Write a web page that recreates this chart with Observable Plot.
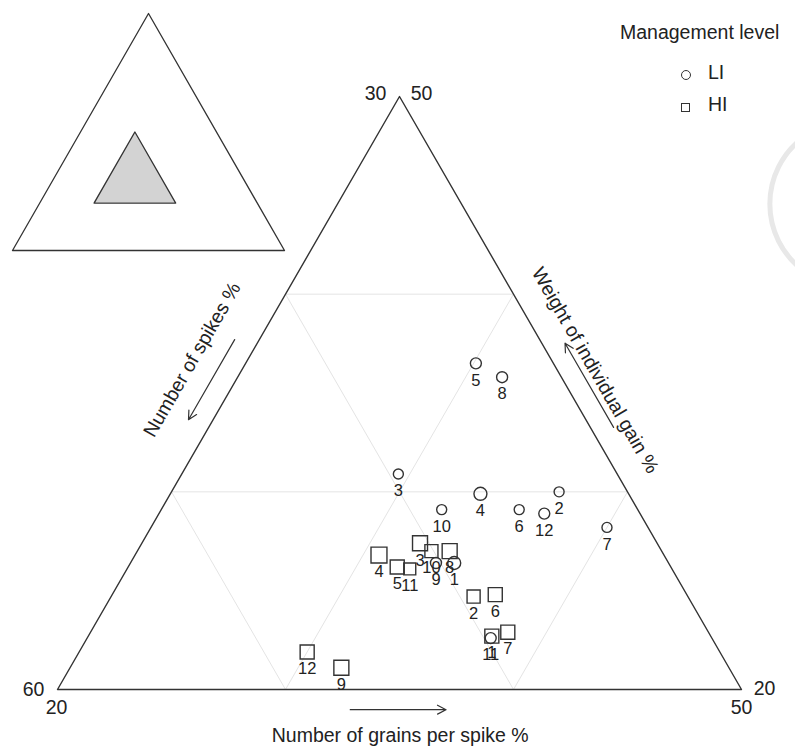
<!DOCTYPE html>
<html><head><meta charset="utf-8">
<script src="https://cdn.jsdelivr.net/npm/d3@7"></script>
<script src="https://cdn.jsdelivr.net/npm/@observablehq/plot@0.6"></script>
<style>
body{margin:0;background:#fff;font-family:"Liberation Sans",Arial,sans-serif;}
#wrap{position:relative;width:795px;height:747px;overflow:hidden;background:#fff;}
#wrap > svg, #wrap > div{position:absolute;}
.leg{position:absolute;font-size:19.5px;color:#222;font-family:"Liberation Sans",Arial,sans-serif;}
.sym{display:inline-block;width:9px;height:9px;border:1.4px solid #333;box-sizing:border-box;}
</style></head><body><div id="wrap"></div>
<script>
// ---- data (percent) ----
const pointIds   = [1, 2, 3, 4, 5, 6, 7, 8, 9, 10, 11, 12];
// LI management level (circles)
const liSpikes   = [39.4, 33.0, 39.6, 36.5, 33.4, 35.2, 31.8, 32.6, 40.2, 38.6, 39.7, 34.2];
const liWeight   = [26.4, 30.0, 30.9, 29.9, 36.5, 29.1, 28.2, 35.8, 26.4, 29.1, 22.6, 28.9];
const liGrains   = [34.2, 37.0, 29.5, 33.6, 30.1, 35.7, 40.0, 31.6, 33.4, 32.3, 37.7, 36.9];
const liCex      = [1.18, 0.91, 0.91, 1.18, 1.0, 0.91, 0.91, 1.0, 1.0, 0.91, 1.0, 1.0];
// HI management level (squares)
const hiSpikes   = [39.6, 39.4, 40.4, 42.5, 42.0, 38.4, 38.8, 39.3, 47.0, 40.1, 41.5, 48.1];
const hiWeight   = [22.7, 24.7, 27.4, 26.8, 26.2, 24.8, 22.9, 27.0, 21.1, 27.0, 26.1, 21.9];
const hiGrains   = [37.7, 35.9, 32.2, 30.7, 31.8, 36.8, 38.3, 33.7, 31.9, 32.9, 32.4, 30.0];
const hiCex      = [1.02, 0.95, 1.09, 1.16, 1.02, 1.02, 1.02, 1.09, 1.09, 0.95, 0.87, 1.02];
// axis limits (zoomed ternary window)
const spikesTicks = [30, 40, 50, 60];
const weightTicks = [20, 30, 40, 50];
const grainsTicks = [20, 30, 40, 50];
const axisTitles  = ["Number of spikes %", "Weight of individual gain %", "Number of grains per spike %"];
const legendTitle = "Management level";
const levels      = ["LI", "HI"];

// ---- ternary helpers ----
const R = spikesTicks[spikesTicks.length-1] - spikesTicks[0];
const sMin = spikesTicks[0], wMin = weightTicks[0], gMin = grainsTicks[0];
const H = Math.sqrt(3)/2;
const fx = (w, g) => g + w/2;
const fy = (w) => w*H;
const proj = (S, W, G) => { const w = (W - wMin)/R, g = (G - gMin)/R; return {x: fx(w,g), y: fy(w)}; };

const pts = [];
pointIds.forEach((id,i)=>pts.push({id, level:"HI", cex:hiCex[i], ...proj(hiSpikes[i], hiWeight[i], hiGrains[i])}));
pointIds.forEach((id,i)=>pts.push({id, level:"LI", cex:liCex[i], ...proj(liSpikes[i], liWeight[i], liGrains[i])}));

const T = {x: fx(1,0), y: fy(1)}, BL = {x: fx(0,0), y: 0}, BR = {x: fx(0,1), y: 0};
const outline = [BL, BR, T, BL];

const grid = [];
weightTicks.slice(1,-1).forEach(v=>{const k=(v-wMin)/R; grid.push({x1:fx(k,0),y1:fy(k),x2:fx(k,1-k),y2:fy(k)});});
grainsTicks.slice(1,-1).forEach(v=>{const k=(v-gMin)/R; grid.push({x1:fx(0,k),y1:0,x2:fx(1-k,k),y2:fy(1-k)});});
spikesTicks.slice(1,-1).forEach(v=>{const k=(v-sMin)/R; grid.push({x1:fx(0,1-k),y1:0,x2:fx(1-k,0),y2:fy(1-k)});});

const cornerLab = [
  {p:T,  t:String(spikesTicks[0]), dx:-24, dy:-3},
  {p:T,  t:String(weightTicks[weightTicks.length-1]), dx:22, dy:-3},
  {p:BL, t:String(spikesTicks[spikesTicks.length-1]), dx:-24, dy:0},
  {p:BL, t:String(grainsTicks[0]), dx:-1, dy:18},
  {p:BR, t:String(weightTicks[0]), dx:23, dy:-1},
  {p:BR, t:String(grainsTicks[grainsTicks.length-1]), dx:0, dy:18},
];

const A = (w,g)=>({x:fx(w,g), y:fy(w)});
const sOut = -0.034;
const leftArrow  = {a:A(0.59,-0.036), b:A(0.455,-0.036)};
const rightArrow = {a:A(0.442, 1-0.442-sOut), b:A(0.584, 1-0.584-sOut)};
const botArrow   = {a:A(-0.034,0.445), b:A(-0.034,0.585)};
const titles = [
  {...A(0.556,-0.081), t:axisTitles[0], r:-60},
  {...A(0.538, 1-0.538+0.055), t:axisTitles[1], r:60},
  {...A(-0.078, 0.54), t:axisTitles[2], r:0},
];

const squareSym = {draw(ctx, size){const h=Math.sqrt(size/Math.PI)*1.25; ctx.moveTo(-h,-h); ctx.lineTo(h,-h); ctx.lineTo(h,h); ctx.lineTo(-h,h); ctx.closePath();}};
const ink = "#333";

const main = Plot.plot({
  width:795, height:747, margin:0,
  x:{domain:[0,1], range:[57,741]},
  y:{domain:[0,H], range:[689,96]},
  r:{type:"linear", domain:[0,1], range:[0,5.5]},
  axis:null,
  style:{fontFamily:"'Liberation Sans', Arial, sans-serif", background:"transparent"},
  marks:[
    Plot.link(grid, {x1:"x1",y1:"y1",x2:"x2",y2:"y2", stroke:"#e4e4e4", strokeWidth:1}),
    Plot.line(outline, {x:"x", y:"y", stroke:ink, strokeWidth:1.4}),
    ...cornerLab.map(c=>Plot.text([c], {x:d=>d.p.x, y:d=>d.p.y, text:"t", dx:c.dx, dy:c.dy, fontSize:19.5, fill:"#222"})),
    ...[leftArrow, rightArrow, botArrow].map(a=>Plot.arrow([a], {x1:d=>d.a.x, y1:d=>d.a.y, x2:d=>d.b.x, y2:d=>d.b.y, stroke:ink, strokeWidth:1.2, headLength:12, headAngle:55})),
    ...titles.map(t=>Plot.text([t], {x:"x", y:"y", text:"t", rotate:t.r, fontSize:19.5, fill:"#222"})),
    Plot.dot(pts.filter(d=>d.level==="HI"), {x:"x", y:"y", r:"cex", symbol:squareSym, stroke:ink, strokeWidth:1.4, fill:"none"}),
    Plot.dot(pts.filter(d=>d.level==="LI"), {x:"x", y:"y", r:"cex", symbol:"circle", stroke:ink, strokeWidth:1.4, fill:"none"}),
    Plot.text(pts, {x:"x", y:"y", text:"id", dy:17, fontSize:16.5, fill:"#222"}),
  ]
});
main.style.left="0px"; main.style.top="0px";

// inset: full ternary with zoomed window shaded
const full = [{x:0,y:0},{x:1,y:0},{x:0.5,y:H},{x:0,y:0}];
const zfrac = (S,W,G)=>({x:(G/100)+(W/100)/2, y:(W/100)*H});
const zBL = zfrac(spikesTicks[3], weightTicks[0], grainsTicks[0]);
const zBR = zfrac(spikesTicks[0], weightTicks[0], grainsTicks[3]);
const zT  = zfrac(spikesTicks[0], weightTicks[3], grainsTicks[0]);
const inset = Plot.plot({
  width:300, height:262, margin:0,
  x:{domain:[0,1], range:[12,284]},
  y:{domain:[0,H], range:[250,13]},
  axis:null,
  style:{background:"transparent"},
  marks:[
    Plot.areaY([zBL, zT, zBR], {x:"x", y1:zBL.y, y2:"y", fill:"#d3d3d3"}),
    Plot.line([zBL, zBR, zT, zBL], {x:"x", y:"y", stroke:ink, strokeWidth:1.3}),
    Plot.line(full, {x:"x", y:"y", stroke:ink, strokeWidth:1.3}),
  ]
});
inset.style.left="0px"; inset.style.top="0px";

const wrap = document.getElementById("wrap");
// faint decorative arc at the right edge (page artefact in the source)
const deco = document.createElementNS("http://www.w3.org/2000/svg","svg");
deco.setAttribute("width","795"); deco.setAttribute("height","747");
deco.style.left="0px"; deco.style.top="0px";
deco.innerHTML = `<path d="M 800 140 A 83 83 0 0 0 800 268" fill="none" stroke="#e8e8e8" stroke-width="5"/>`;
wrap.appendChild(deco);
wrap.appendChild(inset);
wrap.appendChild(main);

const lg = document.createElement("div");
lg.innerHTML = `<div class="leg" style="left:620px;top:21px;white-space:nowrap">${legendTitle}</div>
<div class="leg" style="left:681px;top:62px"><span class="sym" style="border-radius:50%;width:10px;height:10px"></span></div>
<div class="leg" style="left:708px;top:61px">${levels[0]}</div>
<div class="leg" style="left:681px;top:94px"><span class="sym"></span></div>
<div class="leg" style="left:708px;top:93px">${levels[1]}</div>`;
lg.style.left="0px"; lg.style.top="0px";
wrap.appendChild(lg);
</script></body></html>
